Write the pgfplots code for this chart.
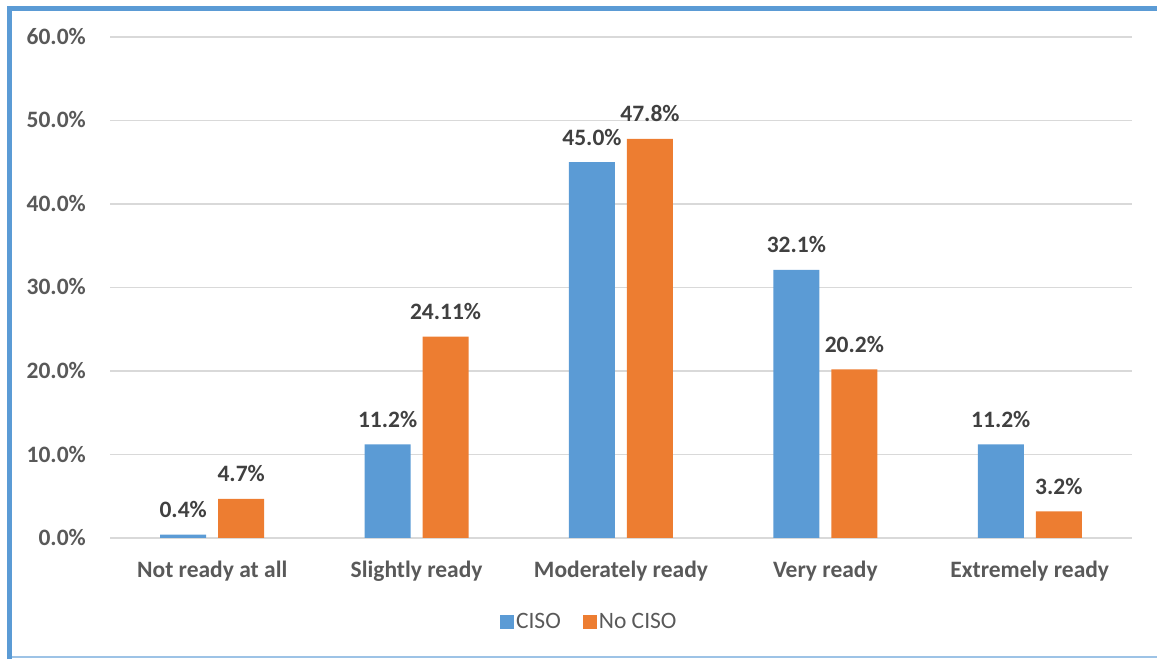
\documentclass[border=0pt]{standalone}
\usepackage{pgfplots}
\pgfplotsset{compat=1.18}
\usepackage{fontspec}
\setmainfont{Carlito}

\definecolor{cisoblue}{HTML}{5B9BD5}
\definecolor{nocisoorange}{HTML}{ED7D31}
\definecolor{gridgray}{HTML}{D9D9D9}
\definecolor{ticktext}{HTML}{595959}
\definecolor{labeltext}{HTML}{404040}
\definecolor{framelight}{HTML}{9DC3E6}

\newcommand{\chartfont}{\fontsize{23.5}{27}\selectfont}

\begin{document}
\begin{tikzpicture}
\path[use as bounding box] (0,0) rectangle (1157pt,659pt);

\begin{axis}[
  at={(110pt,121pt)}, anchor=south west,
  scale only axis,
  width=1022pt, height=501pt,
  xmin=-0.5, xmax=4.5,
  ymin=0, ymax=60,
  axis line style={draw=none},
  major tick length=0pt,
  ymajorgrids,
  grid style={gridgray, line width=1.6pt},
  ytick={0,10,20,30,40,50,60},
  yticklabels={0.0\%,10.0\%,20.0\%,30.0\%,40.0\%,50.0\%,60.0\%},
  yticklabel style={font=\chartfont\bfseries, text=ticktext, anchor=base east, xshift=-24pt, yshift=-7.5pt, inner sep=0pt},
  xtick={0,1,2,3,4},
  xticklabels={Not ready at all, Slightly ready, Moderately ready, Very ready, Extremely ready},
  xticklabel style={font=\chartfont\bfseries, text=ticktext, anchor=base, yshift=-39pt, inner sep=0pt},
  point meta=explicit symbolic,
  nodes near coords,
  every node near coord/.append style={font=\chartfont\bfseries, text=labeltext, anchor=base, yshift=17pt, inner sep=0pt},
  legend columns=2,
  legend style={at={(0.469,-0.1677)}, anchor=center, draw=none, fill=none,
    font=\chartfont, text=ticktext,
    /tikz/every even column/.append style={column sep=20pt}},
  legend image code/.code={\fill[#1] (0pt,-7pt) rectangle (14pt,7pt);},
]
% CISO
\addplot[ybar, bar width=46pt, bar shift=-29pt, fill=cisoblue, draw=none,
  every node near coord/.append style={xshift=-29pt}]
  coordinates {(0,0.4) [0.4\%] (1,11.2) [11.2\%] (2,45.0) [45.0\%] (3,32.1) [32.1\%] (4,11.2) [11.2\%]};
\addlegendentry{CISO}
% No CISO
\addplot[ybar, bar width=46pt, bar shift=29pt, fill=nocisoorange, draw=none,
  every node near coord/.append style={xshift=29pt}]
  coordinates {(0,4.7) [4.7\%] (1,24.11) [24.11\%] (2,47.8) [47.8\%] (3,20.2) [20.2\%] (4,3.2) [3.2\%]};
\addlegendentry{No CISO}
\end{axis}

% chart frame
\draw[cisoblue, line width=5pt] (9.5pt,0pt) -- (9.5pt,650.5pt) -- (1160pt,650.5pt);
\draw[framelight, line width=1.5pt] (12pt,2pt) -- (1160pt,2pt);
\end{tikzpicture}
\end{document}
